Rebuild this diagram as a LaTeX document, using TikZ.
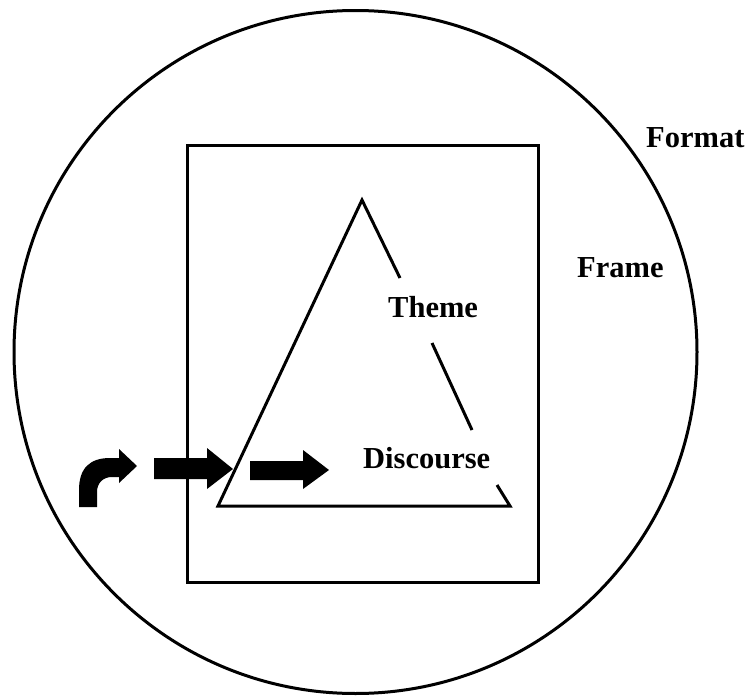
\documentclass[tikz,border=0pt]{standalone}
\usepackage{fontspec}
\setmainfont{Liberation Serif}
\begin{document}
\begin{tikzpicture}[x=1pt,y=-1pt,
  outline/.style={draw=black,line width=3pt},
  label/.style={font=\fontsize{30.5}{36}\selectfont\bfseries,anchor=base west,inner sep=0pt},
  blockarrow/.style={fill=black}]
\useasboundingbox (0,0) rectangle (748,696);
% format circle
\draw[outline] (355.5,352) circle[radius=341.5];
% frame rectangle
\draw[outline] (187,145) rectangle (538,582);
% triangle with gaps on right side
\draw[outline,line join=miter] (400,278) -- (362,200) -- (218,506) -- (510,506) -- (497,485);
\draw[outline] (432,343) -- (472,430);
% labels
\node[label] (format) at (646,147) {Format};
\node[label] (frame) at (577,277) {Frame};
\node[label] (theme) at (388,317) {Theme};
\node[label] (discourse) at (363,468) {Discourse};
% curved arrow
\fill[blockarrow] (79,507) -- (79,490) .. controls (79,468) and (90,458) .. (110,458) -- (119,458) -- (119,449) -- (137,466) -- (119,483) -- (119,477) -- (112,477) .. controls (103,477) and (97,483) .. (97,492) -- (97,507) -- cycle;
% straight arrows
\fill[blockarrow] (154,458) -- (207,458) -- (207,448) -- (233,469) -- (207,489) -- (207,479) -- (154,479) -- cycle;
\fill[blockarrow] (250,461) -- (303,461) -- (303,450) -- (329,470) -- (303,489) -- (303,480) -- (250,480) -- cycle;
\end{tikzpicture}
\end{document}
